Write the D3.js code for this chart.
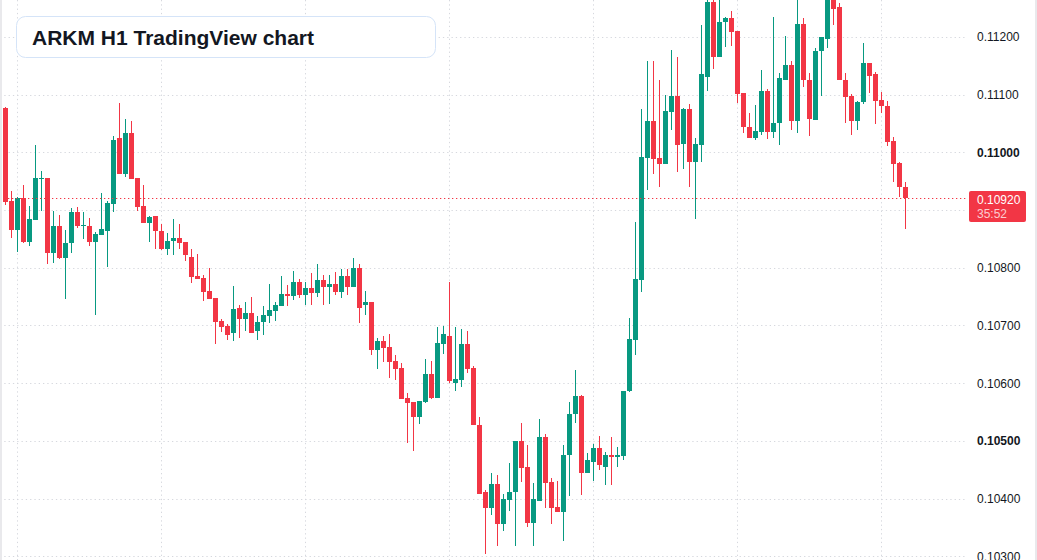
<!DOCTYPE html>
<html>
<head>
<meta charset="utf-8">
<script src="https://cdn.jsdelivr.net/npm/d3@7"></script>
<style>
  html, body { margin: 0; padding: 0; background: #fff; }
  svg { display: block; }
</style>
</head>
<body>
<svg id="chart" width="1037" height="560"></svg>
<script>
// ARKM H1 candles (oldest first)
var opens = [
  0.11076,0.10915,0.10866,0.10921,0.10845,0.10883,0.10955,0.10955,0.10826,0.10873,
  0.10817,0.10842,0.10896,0.10873,0.10873,0.10845,0.10857,0.10864,0.10911,0.11024,
  0.10962,0.11034,0.10955,0.10907,0.10878,0.10889,0.10864,0.10832,0.10846,0.10852,
  0.10844,0.10818,0.10785,0.10782,0.10759,0.10747,0.10707,0.10699,0.10686,0.10731,
  0.10711,0.10721,0.10690,0.10706,0.10717,0.10725,0.10734,0.10754,0.10751,0.10776,
  0.10753,0.10764,0.10756,0.10778,0.10767,0.10771,0.10758,0.10785,0.10767,0.10799,
  0.10736,0.10740,0.10658,0.10673,0.10663,0.10638,0.10626,0.10574,0.10568,0.10541,
  0.10568,0.10615,0.10575,0.10668,0.10682,0.10601,0.10606,0.10668,0.10626,0.10528,
  0.10411,0.10384,0.10425,0.10356,0.10398,0.10411,0.10499,0.10454,0.10358,0.10396,
  0.10506,0.10429,0.10385,0.10377,0.10475,0.10546,0.10578,0.10444,0.10463,0.10488,
  0.10455,0.10475,0.10472,0.10473,0.10587,0.10675,0.10779,0.10990,0.11054,0.10990,
  0.10979,0.11070,0.11097,0.11014,0.11075,0.10983,0.11013,0.11130,0.11261,0.11166,
  0.11225,0.11232,0.11211,0.11102,0.11044,0.11025,0.11035,0.11106,0.11036,0.11050,
  0.11126,0.11152,0.11054,0.11223,0.11126,0.11056,0.11175,0.11197,0.11275,0.11252,
  0.11126,0.11097,0.11054,0.11087,0.11154,0.11135,0.11090,0.11081,0.11020,0.10981,
  0.10939
];
var highs = [
  0.11078,0.10933,0.10922,0.10943,0.10907,0.11012,0.10967,0.10955,0.10898,0.10892,
  0.10865,0.10903,0.10906,0.10896,0.10886,0.10862,0.10929,0.10915,0.11029,0.11086,
  0.11057,0.11055,0.10955,0.10943,0.10890,0.10889,0.10875,0.10861,0.10885,0.10876,
  0.10844,0.10833,0.10823,0.10787,0.10800,0.10747,0.10711,0.10702,0.10768,0.10735,
  0.10740,0.10749,0.10717,0.10733,0.10771,0.10740,0.10785,0.10770,0.10794,0.10780,
  0.10775,0.10790,0.10806,0.10787,0.10788,0.10792,0.10797,0.10797,0.10816,0.10806,
  0.10759,0.10740,0.10678,0.10681,0.10685,0.10649,0.10635,0.10582,0.10568,0.10569,
  0.10642,0.10638,0.10697,0.10699,0.10775,0.10697,0.10694,0.10690,0.10630,0.10542,
  0.10414,0.10444,0.10440,0.10407,0.10461,0.10500,0.10530,0.10492,0.10426,0.10538,
  0.10511,0.10435,0.10430,0.10492,0.10568,0.10623,0.10580,0.10478,0.10494,0.10509,
  0.10480,0.10507,0.10490,0.10587,0.10712,0.10880,0.11075,0.11159,0.11159,0.11126,
  0.11099,0.11178,0.11166,0.11076,0.11083,0.11025,0.11221,0.11268,0.11268,0.11270,
  0.11235,0.11245,0.11211,0.11102,0.11068,0.11082,0.11142,0.11109,0.11235,0.11137,
  0.11202,0.11159,0.11270,0.11233,0.11137,0.11180,0.11199,0.11282,0.11282,0.11259,
  0.11137,0.11101,0.11089,0.11190,0.11154,0.11140,0.11104,0.11089,0.11026,0.10983,
  0.10948
];
var lows = [
  0.10909,0.10852,0.10828,0.10843,0.10838,0.10883,0.10899,0.10807,0.10809,0.10815,
  0.10746,0.10826,0.10869,0.10850,0.10837,0.10718,0.10857,0.10802,0.10897,0.10962,
  0.10957,0.10954,0.10899,0.10878,0.10844,0.10832,0.10830,0.10822,0.10822,0.10832,
  0.10811,0.10773,0.10780,0.10742,0.10745,0.10667,0.10689,0.10675,0.10673,0.10679,
  0.10691,0.10686,0.10675,0.10684,0.10704,0.10708,0.10734,0.10734,0.10744,0.10748,
  0.10735,0.10735,0.10749,0.10736,0.10737,0.10753,0.10748,0.10753,0.10767,0.10704,
  0.10718,0.10649,0.10625,0.10637,0.10608,0.10606,0.10573,0.10497,0.10482,0.10529,
  0.10566,0.10572,0.10575,0.10651,0.10601,0.10587,0.10594,0.10617,0.10527,0.10408,
  0.10304,0.10372,0.10318,0.10344,0.10379,0.10318,0.10429,0.10351,0.10318,0.10396,
  0.10384,0.10356,0.10377,0.10327,0.10404,0.10530,0.10406,0.10444,0.10430,0.10449,
  0.10423,0.10423,0.10454,0.10466,0.10584,0.10649,0.10758,0.10935,0.10962,0.10940,
  0.10979,0.11038,0.10966,0.10971,0.10940,0.10885,0.10983,0.11107,0.11144,0.11166,
  0.11182,0.11185,0.11085,0.11033,0.11025,0.11021,0.11030,0.11023,0.11025,0.11013,
  0.11126,0.11038,0.11033,0.11114,0.11028,0.11056,0.11097,0.11180,0.11221,0.11126,
  0.11051,0.11030,0.11038,0.11083,0.11102,0.11049,0.11068,0.11011,0.10949,0.10922,
  0.10867
];
var closes = [
  0.10914,0.10866,0.10921,0.10845,0.10884,0.10955,0.10956,0.10826,0.10873,0.10817,
  0.10843,0.10896,0.10873,0.10874,0.10845,0.10858,0.10867,0.10912,0.11022,0.10962,
  0.11034,0.10954,0.10906,0.10878,0.10888,0.10863,0.10832,0.10847,0.10852,0.10843,
  0.10822,0.10784,0.10780,0.10758,0.10746,0.10706,0.10698,0.10684,0.10728,0.10711,
  0.10721,0.10687,0.10706,0.10718,0.10726,0.10735,0.10754,0.10751,0.10776,0.10753,
  0.10764,0.10756,0.10778,0.10767,0.10771,0.10758,0.10785,0.10767,0.10799,0.10730,
  0.10740,0.10658,0.10673,0.10661,0.10637,0.10625,0.10573,0.10566,0.10541,0.10569,
  0.10615,0.10575,0.10669,0.10685,0.10603,0.10607,0.10668,0.10625,0.10527,0.10408,
  0.10384,0.10425,0.10356,0.10399,0.10411,0.10499,0.10453,0.10358,0.10399,0.10506,
  0.10427,0.10384,0.10377,0.10476,0.10547,0.10578,0.10444,0.10466,0.10488,0.10458,
  0.10475,0.10472,0.10475,0.10587,0.10676,0.10780,0.10992,0.11054,0.10988,0.10980,
  0.11071,0.11097,0.11013,0.11075,0.10983,0.11014,0.11135,0.11261,0.11166,0.11225,
  0.11232,0.11209,0.11101,0.11044,0.11025,0.11037,0.11106,0.11035,0.11051,0.11128,
  0.11152,0.11054,0.11223,0.11125,0.11057,0.11176,0.11199,0.11275,0.11249,0.11126,
  0.11095,0.11054,0.11087,0.11154,0.11132,0.11089,0.11080,0.11018,0.10980,0.10939,
  0.10920
];

// price axis ticks; the round ones are drawn bold
var priceTicks = [0.103, 0.104, 0.105, 0.106, 0.107, 0.108, 0.109, 0.110, 0.111, 0.112];
var boldTicks = [0.105, 0.110];
// candle indexes where a new day starts (vertical grid)
var dayStarts = [2, 26, 50, 74, 98, 122, 146];
var lastPrice = 0.10920;
var countdown = '35:52';
var title = 'ARKM H1 TradingView chart';

var W = 1037, H = 560;
var upColor = '#089981', downColor = '#F23645';
var plotRight = 967;
var font = '"Liberation Sans", Arial, sans-serif';

var svg = d3.select('#chart');
svg.append('rect').attr('width', W).attr('height', H).attr('fill', '#fff');

var candles = d3.range(opens.length).map(function(i) {
  return {i: i, o: opens[i], h: highs[i], l: lows[i], c: closes[i]};
});

var x = d3.scaleLinear().domain([0, candles.length - 1]).range([5.5, 905.5]);
var y = d3.scaleLinear().domain([0.103, 0.112]).range([556.2, 36.9]);

// grid
var grid = svg.append('g').attr('class', 'grid')
  .attr('stroke', '#d6d8de').attr('stroke-width', 1).attr('stroke-dasharray', '1.3,3');

grid.selectAll('line.h').data(priceTicks).enter().append('line')
  .attr('class', 'h')
  .attr('x1', 0).attr('x2', plotRight)
  .attr('y1', function(d) { return Math.round(y(d)) + 0.5; })
  .attr('y2', function(d) { return Math.round(y(d)) + 0.5; });

grid.selectAll('line.v').data(dayStarts).enter().append('line')
  .attr('class', 'v')
  .attr('y1', 0).attr('y2', H)
  .attr('x1', function(d) { return Math.floor(x(d)) + 0.5; })
  .attr('x2', function(d) { return Math.floor(x(d)) + 0.5; });

// candles
var plot = svg.append('g').attr('class', 'candles');
var bodyW = 5;

var cg = plot.selectAll('g').data(candles).enter().append('g')
  .attr('fill', function(d) { return d.c >= d.o ? upColor : downColor; })
  .attr('stroke', function(d) { return d.c >= d.o ? upColor : downColor; });

cg.append('line')
  .attr('x1', function(d) { return x(d.i); })
  .attr('x2', function(d) { return x(d.i); })
  .attr('y1', function(d) { return Math.round(y(d.h)); })
  .attr('y2', function(d) { return Math.round(y(d.l)); })
  .attr('stroke-width', 1);

cg.append('rect')
  .attr('stroke', 'none')
  .attr('x', function(d) { return x(d.i) - bodyW / 2; })
  .attr('width', bodyW)
  .attr('y', function(d) { return Math.round(y(Math.max(d.o, d.c))); })
  .attr('height', function(d) {
    return Math.max(1, Math.round(y(Math.min(d.o, d.c))) - Math.round(y(Math.max(d.o, d.c))));
  });

// last price line
var ly = Math.round(y(lastPrice)) + 0.5;
svg.append('line')
  .attr('x1', 0).attr('x2', plotRight).attr('y1', ly).attr('y2', ly)
  .attr('stroke', downColor).attr('stroke-width', 1).attr('stroke-dasharray', '1.3,2.7');

// price axis labels
svg.append('g').selectAll('text').data(priceTicks).enter().append('text')
  .attr('x', 977)
  .attr('y', function(d) { return y(d) + 4.5; })
  .attr('font-family', font)
  .attr('font-size', 12)
  .attr('font-weight', function(d) { return boldTicks.indexOf(d) >= 0 ? 700 : 400; })
  .attr('fill', '#131722')
  .text(function(d) { return d3.format('.5f')(d); });

// last price badge
var badge = svg.append('g');
badge.append('rect')
  .attr('x', 969).attr('y', ly - 7.5).attr('width', 57).attr('height', 31)
  .attr('rx', 2).attr('fill', downColor);
badge.append('text')
  .attr('x', 977).attr('y', ly + 5)
  .attr('font-family', font).attr('font-size', 12)
  .attr('fill', '#fff')
  .text(d3.format('.5f')(lastPrice));
badge.append('text')
  .attr('x', 977).attr('y', ly + 19)
  .attr('font-family', font).attr('font-size', 12)
  .attr('fill', '#fff').attr('fill-opacity', 0.75)
  .text(countdown);

// edges
svg.append('rect').attr('x', 0).attr('y', 0).attr('width', 2).attr('height', H).attr('fill', '#e9e9ec');
svg.append('rect').attr('x', 1035).attr('y', 0).attr('width', 2).attr('height', H).attr('fill', '#e9e9ec');

// title box
var tb = svg.append('g');
tb.append('rect')
  .attr('x', 16.5).attr('y', 16.5).attr('width', 419).attr('height', 41).attr('rx', 9)
  .attr('fill', '#fff').attr('stroke', '#d5e4f8').attr('stroke-width', 1);
tb.append('text')
  .attr('x', 32).attr('y', 44.5)
  .attr('font-family', font)
  .attr('font-size', 21).attr('font-weight', 700)
  .attr('fill', '#131722')
  .text(title);
</script>
</body>
</html>
